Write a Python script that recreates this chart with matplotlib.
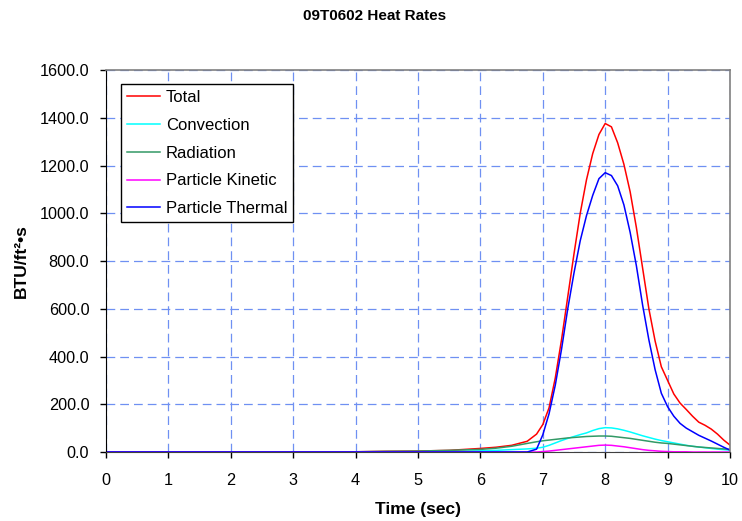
import matplotlib
matplotlib.use("Agg")
import matplotlib.pyplot as plt
from matplotlib.ticker import FormatStrFormatter

plt.rcParams['font.family'] = ['Liberation Sans', 'DejaVu Sans']

# time samples (sec)
time = [0, 4, 4.5, 5, 5.5, 6, 6.25, 6.5, 6.75, 6.9, 7.0, 7.1, 7.2, 7.3, 7.4, 7.5,
        7.6, 7.7, 7.8, 7.9, 8.0, 8.1, 8.2, 8.3, 8.4, 8.5, 8.6, 8.7, 8.8, 8.9,
        9.0, 9.1, 9.2, 9.3, 9.4, 9.5, 9.6, 9.7, 9.8, 9.9, 10.0]

total = [0, 1, 3, 4, 7, 15, 20, 28, 45, 75, 115, 185, 310, 470, 650, 830,
         1000, 1140, 1250, 1330, 1376, 1362, 1295, 1205, 1090, 940, 770, 600, 465, 357,
         300, 243, 205, 178, 150, 125, 112, 96, 75, 50, 29]

convection = [0, 0, 0, 0, 2, 5, 7, 10, 13, 16, 20, 28, 38, 48, 57, 65,
              73, 80, 90, 98, 102, 101, 97, 91, 84, 76, 68, 61, 54, 48,
              43, 38, 33, 28, 24, 21, 18, 15, 12, 10, 8]

radiation = [0, 1, 3, 4, 7, 11, 16, 24, 36, 43, 47, 50, 53, 56, 59, 61,
             63, 65, 66, 67, 67, 66, 63, 60, 57, 53, 49, 45, 41, 38,
             36, 33, 30, 27, 24, 21, 19, 17, 15, 13, 11]

kinetic = [0, 0, 0, 0, 0, 0, 0, 0, 0, 0, 2, 4, 7, 10, 13, 16,
           19, 22, 25, 28, 29, 28, 25, 22, 18, 14, 10, 7, 5, 3,
           2, 1, 1, 1, 0, 0, 0, 0, 0, 0, 0]

thermal = [0, 0, 0, 0, 0, 0, 0, 0, 0, 12, 72, 160, 280, 430, 600, 750,
           885, 990, 1075, 1145, 1170, 1158, 1115, 1035, 920, 780, 615, 470, 345, 246,
           190, 150, 120, 100, 85, 70, 58, 46, 33, 20, 8]

fig = plt.figure(figsize=(7.42, 5.21), dpi=100)
ax = fig.add_axes([0.1429, 0.1324, 0.8409, 0.7332])

ax.plot(time, total, color="#FF0000", lw=1.1, label="Total")
ax.plot(time, convection, color="#00FFFF", lw=1.1, label="Convection")
ax.plot(time, radiation, color="#339966", lw=1.1, label="Radiation")
ax.plot(time, kinetic, color="#FF00FF", lw=1.1, label="Particle Kinetic")
ax.plot(time, thermal, color="#0000FF", lw=1.1, label="Particle Thermal")

ax.set_xlim(0, 10)
ax.set_ylim(0, 1600)
ax.set_xticks(range(0, 11))
ax.set_yticks(range(0, 1601, 200))
ax.yaxis.set_major_formatter(FormatStrFormatter("%.1f"))
ax.grid(True, color="#6F90F2", linestyle=(0, (7, 4)), linewidth=0.9)
ax.set_axisbelow(True)

ax.tick_params(direction="out", length=4, width=1, labelsize=11.7, colors="#000000")
ax.tick_params(axis="x", pad=11)
ax.tick_params(axis="y", pad=8)
for side in ["top", "right"]:
    ax.spines[side].set_color("#808080")
    ax.spines[side].set_linewidth(1.2)
ax.spines["left"].set_color("#000000")
ax.spines["bottom"].set_color("#404040")

ax.set_xlabel("Time (sec)", fontsize=12.5, fontweight="bold", labelpad=10)
ax.set_ylabel("BTU/ft²•s", fontsize=12.5, fontweight="bold", labelpad=8)
fig.suptitle("09T0602 Heat Rates", x=0.505, y=0.982, fontsize=11, fontweight="bold")

leg = ax.legend(loc="upper left", bbox_to_anchor=(0.024, 0.963), fontsize=12,
                frameon=True, fancybox=False, edgecolor="#000000", framealpha=1,
                handlelength=2.0, labelspacing=0.77, borderpad=0.35, handletextpad=0.35,
                borderaxespad=0)
leg.get_frame().set_linewidth(1.0)

fig.savefig("out.png", dpi=100)
